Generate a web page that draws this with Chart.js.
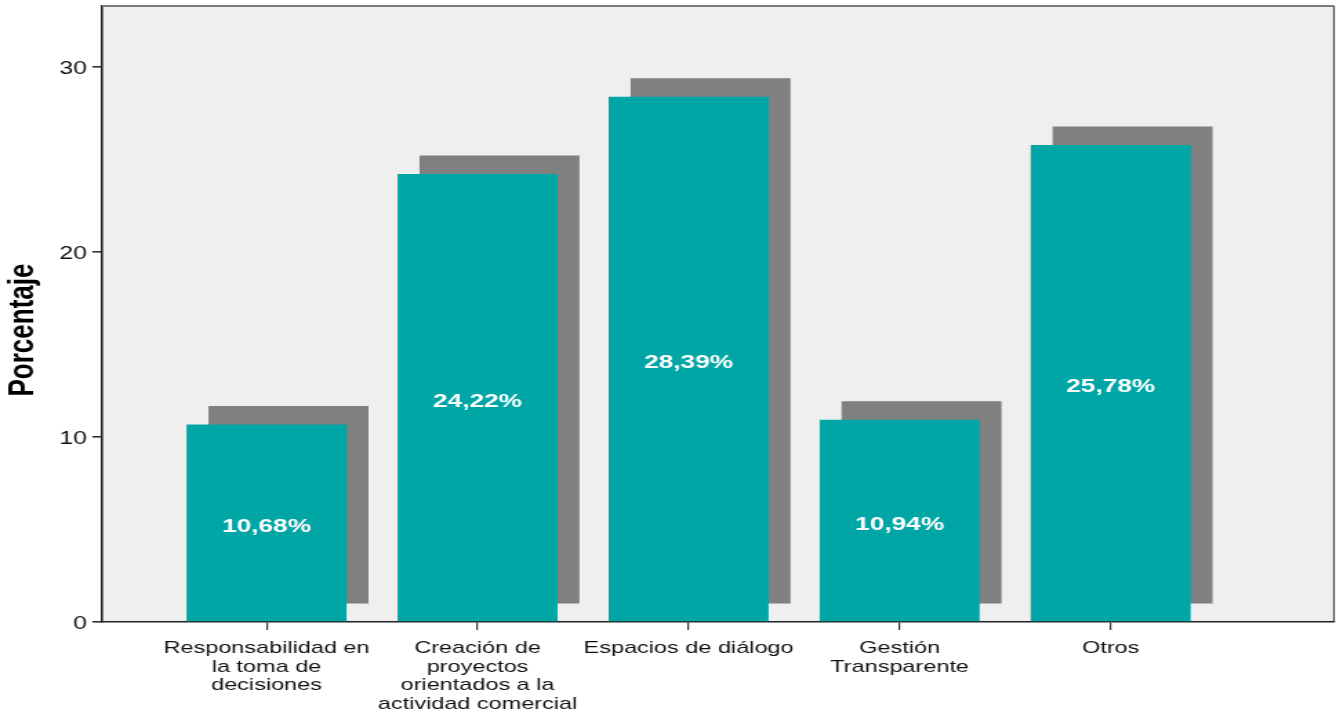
<!DOCTYPE html>
<html>
<head>
<meta charset="utf-8">
<script src="https://cdn.jsdelivr.net/npm/chart.js@4/dist/chart.umd.min.js"></script>
<style>
  html, body { margin: 0; padding: 0; background: #ffffff; overflow: hidden; }
  #c { display: block; transform-origin: 0 0; transform: scaleX(1.38017); }
</style>
</head>
<body>
<canvas id="c" width="968" height="715"></canvas>
<script>
const categories = [
  ["Responsabilidad en", "la toma de", "decisiones"],
  ["Creación de", "proyectos", "orientados a la", "actividad comercial"],
  ["Espacios de diálogo"],
  ["Gestión", "Transparente"],
  ["Otros"]
];
const percentages = [10.68, 24.22, 28.39, 10.94, 25.78];
const valueLabels = ["10,68%", "24,22%", "28,39%", "10,94%", "25,78%"];
const yTickValues = [0, 10, 20, 30];
const yAxisTitle = "Porcentaje";

const FONT = "'Liberation Sans', Arial, sans-serif";
const PLOT_LEFT = 73.9, PLOT_BOTTOM_SPACE = 93;
const SHADOW_DX = 15.9;

const mainData = percentages.map((v, i) => ({ x: i + 1, y: v }));
const shadowData = percentages.map((v, i) => ({ x: i + 1, y: [1, v + 1] }));

const framePlugin = {
  id: 'frame',
  beforeDraw(chart) {
    const { ctx, chartArea: a } = chart;
    ctx.save();
    ctx.fillStyle = '#efefef';
    ctx.fillRect(a.left, a.top, a.right - a.left, a.bottom - a.top);
    ctx.restore();
  },
  afterDraw(chart) {
    const { ctx, chartArea: a } = chart;
    ctx.save();
    ctx.strokeStyle = '#7a7a7a';
    ctx.lineWidth = 2;
    ctx.beginPath();
    ctx.moveTo(a.left, a.top);
    ctx.lineTo(a.right, a.top);
    ctx.stroke();
    ctx.strokeStyle = '#444';
    ctx.lineWidth = 1.2;
    ctx.beginPath();
    ctx.moveTo(a.right, a.top);
    ctx.lineTo(a.right, a.bottom);
    ctx.stroke();
    ctx.translate(17, 330);
    ctx.rotate(-Math.PI / 2);
    ctx.fillStyle = '#000';
    ctx.font = 'bold 26px ' + FONT;
    ctx.textAlign = 'center';
    ctx.textBaseline = 'middle';
    ctx.fillText(yAxisTitle, 0, 0);
    ctx.restore();
  },
  beforeDatasetDraw(chart, args) {
    if (args.index === 0) {
      chart.ctx.save();
      chart.ctx.translate(SHADOW_DX, 0);
    }
  },
  afterDatasetDraw(chart, args) {
    if (args.index === 0) chart.ctx.restore();
  },
  afterDatasetsDraw(chart) {
    const { ctx } = chart;
    const meta = chart.getDatasetMeta(1);
    ctx.save();
    ctx.fillStyle = '#ffffff';
    ctx.font = 'bold 19px ' + FONT;
    ctx.textAlign = 'center';
    ctx.textBaseline = 'middle';
    meta.data.forEach((el, i) => {
      ctx.fillText(valueLabels[i], el.x, (el.y + el.base) / 2 + 4);
    });
    ctx.restore();
  }
};

new Chart(document.getElementById('c'), {
  type: 'bar',
  data: {
    datasets: [
      {
        data: shadowData,
        backgroundColor: '#808080',
        borderWidth: 0,
        grouped: false,
        order: 2,
        barPercentage: 0.758,
        categoryPercentage: 1
      },
      {
        data: mainData,
        backgroundColor: '#00a5a5',
        borderWidth: 0,
        grouped: false,
        order: 1,
        barPercentage: 0.758,
        categoryPercentage: 1
      }
    ]
  },
  options: {
    responsive: false,
    animation: false,
    devicePixelRatio: 1,
    layout: { padding: { top: 6, right: 1.5, left: 0, bottom: 0 } },
    plugins: {
      legend: { display: false },
      tooltip: { enabled: false },
      title: { display: false }
    },
    scales: {
      x: {
        type: 'linear',
        min: 0.2204,
        max: 6.058,
        offset: false,
        z: 1,
        afterBuildTicks(s) { s.ticks = categories.map((c, i) => ({ value: i + 1 })); },
        afterFit(s) { s.height = PLOT_BOTTOM_SPACE; s.paddingLeft = 0; s.paddingRight = 0; },
        grid: { offset: false, drawOnChartArea: false, drawTicks: true, tickLength: 8, color: '#333', lineWidth: 1.2 },
        border: { display: true, color: '#222', width: 1.6 },
        ticks: {
          autoSkip: false,
          maxRotation: 0,
          minRotation: 0,
          padding: 9,
          color: '#111',
          font: { family: FONT, size: 17, lineHeight: 1.1 },
          callback: (v) => categories[Math.round(v) - 1] || ''
        }
      },
      y: {
        min: 0,
        max: 33.3,
        afterBuildTicks(s) { s.ticks = yTickValues.map(v => ({ value: v })); },
        afterFit(s) { s.width = PLOT_LEFT; s.paddingTop = 0; s.paddingBottom = 0; },
        grid: { drawOnChartArea: false, drawTicks: true, tickLength: 7, color: '#333', lineWidth: 1.6 },
        border: { display: true, color: '#222', width: 1.6 },
        ticks: {
          padding: 4,
          labelOffset: 2,
          color: '#111',
          font: { family: FONT, size: 18 }
        }
      }
    }
  },
  plugins: [framePlugin]
});
</script>
</body>
</html>
